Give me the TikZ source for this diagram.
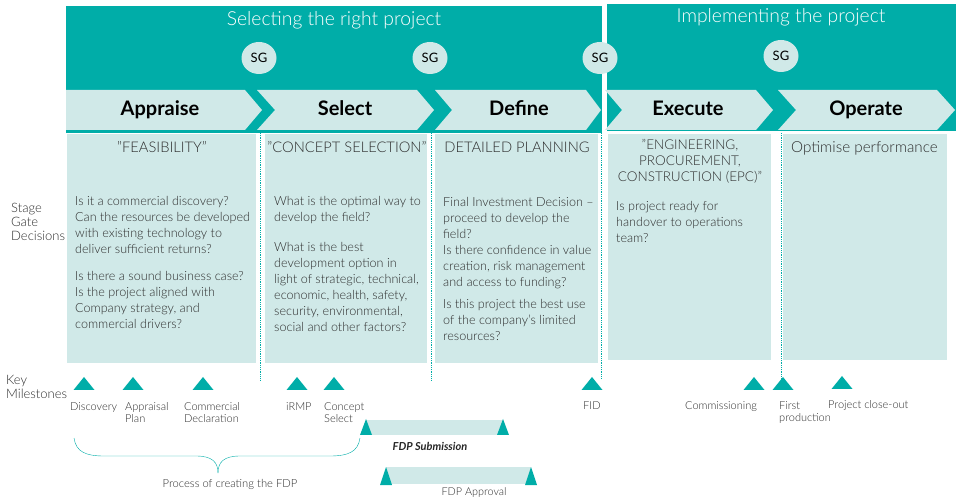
\documentclass[tikz,border=0pt]{standalone}
\usepackage{fontspec}
\setmainfont{Lato}
\newfontfamily\leggero{Lato Light}[Ligatures = TeX]
\usepackage{tikz}
\usetikzlibrary{shapes.geometric}
\usepackage{xcolor}
\definecolor{verde}{RGB}{0,173,168}
\definecolor{chiaro}{RGB}{208,233,232}
\definecolor{testo}{RGB}{45,45,45}
\newcommand{\tappa}[4]{
\fill[verde] ({#1-#3/2},#2) -- (#1,{#2-#4}) -- ({#1+#3/2},#2) -- cycle;
}
\newcommand{\virg}{\symbol{34}}

\begin{document}
\begin{tikzpicture}[x = 1pt, y = -1pt, inner sep = 0pt, text = testo,
    corpo/.style = {anchor = north west, align = left, font = \leggero\fontsize{12.6}{16}\selectfont},
    titolo/.style = {align = center, font = \leggero\fontsize{14.7}{16}\selectfont},
    fase/.style = {text = black, anchor = base, font = \fontsize{20}{22}\selectfont\bfseries},
    fascia/.style = {text = white, font = \leggero\fontsize{19.3}{22}\selectfont},
    sg/.style = {ellipse, fill = chiaro, minimum width = 35pt, minimum height = 32pt, text = black, font = \fontsize{13}{15}\selectfont},
    etichetta/.style = {anchor = north west, align = left, font = \leggero\fontsize{11}{12}\selectfont},
    lato/.style = {anchor = north west, align = left, font = \leggero\fontsize{13}{14}\selectfont},
    punteggiata/.style = {verde, densely dotted, line width = 0.8pt}]
    \useasboundingbox (0,0) rectangle (956,502);
    %Parametri
    \pgfmathsetmacro{\alto}{90}
    \pgfmathsetmacro{\medio}{110}
    \pgfmathsetmacro{\basso}{130}
    % Fasce in alto
    \fill[verde] (66,6) rectangle (602,133);
    \fill[verde] (607,4) rectangle (956,131);
    \node[fascia] (selezione) at (334,20) {Selecting the right project};
    \node[fascia] (attuazione) at (781,17) {Implementing the project};
    % Frecce delle fasi
    \fill[chiaro] (66,\alto) -- (245,\alto) -- (262,\medio) -- (245,\basso) -- (66,\basso) -- cycle;
    \fill[chiaro] (257,\alto) -- (417,\alto) -- (434,\medio) -- (417,\basso) -- (257,\basso) -- (275,\medio) -- cycle;
    \fill[chiaro] (435,\alto) -- (586,\alto) -- (601,\medio) -- (586,\basso) -- (435,\basso) -- (452,\medio) -- cycle;
    \fill[chiaro] (605,\alto) -- (756,\alto) -- (773,\medio) -- (756,\basso) -- (605,\basso) -- (622,\medio) -- cycle;
    \fill[chiaro] (778,\alto) -- (937,\alto) -- (955,\medio) -- (937,\basso) -- (778,\basso) -- (796,\medio) -- cycle;
    \node[fase] (appraise) at (160,116) {Appraise};
    \node[fase] (select) at (345,116) {Select};
    \node[fase] (define) at (519,116) {Define};
    \node[fase] (execute) at (688,116) {Execute};
    \node[fase] (operate) at (866,116) {Operate};
    % Stage gate
    \node[sg] (sg1) at (259,58) {SG};
    \node[sg] (sg2) at (430,58) {SG};
    \node[sg] (sg3) at (600,58) {SG};
    \node[sg] (sg4) at (781,56) {SG};
    % Colonne
    \fill[chiaro] (67,134) rectangle (256,363);
    \fill[chiaro] (265,134) rectangle (427,363);
    \fill[chiaro] (435,134) rectangle (598,363);
    \fill[chiaro] (608,134) rectangle (771,360);
    \fill[chiaro] (783,134) rectangle (947,360);
    % Linee tratteggiate
    \draw[punteggiata] (260,133) -- (260,380);
    \draw[punteggiata] (431,133) -- (431,380);
    \draw[punteggiata] (601,133) -- (601,379);
    \draw[punteggiata] (781,133) -- (781,380);
    % Titoli delle colonne
    \node[titolo] (feasibility) at (162,147) {\virg FEASIBILITY\virg};
    \node[titolo] (concetto) at (347,147) {\virg CONCEPT SELECTION\virg};
    \node[titolo] (planning) at (517,147) {DETAILED PLANNING};
    \node[titolo, font = \leggero\fontsize{13.5}{16}\selectfont] (epc) at (690,161) {\virg ENGINEERING,\\PROCUREMENT,\\CONSTRUCTION (EPC)\virg};
    \node[titolo, anchor = west, font = \leggero\fontsize{15.2}{16}\selectfont] (optimise) at (791,148) {Optimise performance};
    % Domande
    \node[corpo] (domande1) at (75,196) {Is it a commercial discovery?\\Can the resources be developed\\with existing technology to\\deliver sufficient returns?\\[11pt]Is there a sound business case?\\Is the project aligned with\\Company strategy, and\\commercial drivers?};
    \node[corpo] (domande2) at (274,196) {What is the optimal way to\\develop the field?\\[14pt]What is the best\\development option in\\light of strategic, technical,\\economic, health, safety,\\security, environmental,\\social and other factors?};
    \node[corpo] (domande3) at (443,197) {Final Investment Decision –\\proceed to develop the\\field?\\Is there confidence in value\\creation, risk management\\and access to funding?\\[6pt]Is this project the best use\\of the company’s limited\\resources?};
    \node[corpo] (domande4) at (616,201) {Is project ready for\\handover to operations\\team?};
    % Etichette a sinistra
    \node[lato] (stage) at (11,203) {Stage\\Gate\\Decisions};
    \node[lato] (key) at (6,375) {Key\\Milestones};
    % Tappe
    \tappa{84}{390}{21}{13}
    \tappa{133}{390}{21}{13}
    \tappa{203}{390}{21}{13}
    \tappa{297}{390}{21}{13}
    \tappa{334}{390}{21}{13}
    \tappa{592}{390}{21}{13}
    \tappa{754}{390}{21}{13}
    \tappa{783}{390}{21}{13}
    \tappa{842}{389}{21}{13}
    \node[etichetta] (discovery) at (70,402) {Discovery};
    \node[etichetta] (appraisal) at (125,402) {Appraisal\\Plan};
    \node[etichetta] (commercial) at (184,402) {Commercial\\Declaration};
    \node[etichetta] (irmp) at (286,402) {iRMP};
    \node[etichetta] (concept) at (324,402) {Concept\\Select};
    \node[etichetta] (fid) at (583,402) {FID};
    \node[etichetta] (commissioning) at (685,401) {Commissioning};
    \node[etichetta] (first) at (779,401) {First\\production};
    \node[etichetta] (closeout) at (828,400) {Project close-out};
    % FDP
    \fill[chiaro] (366,420) rectangle (503,435);
    \tappa{366}{435}{12}{16}
    \tappa{503}{435}{12}{16}
    \node[text = black!85, font = \fontsize{11}{13}\selectfont\bfseries\itshape] (submission) at (430,446) {FDP Submission};
    \fill[chiaro] (386,467) rectangle (531,484);
    \tappa{386}{485}{12}{18}
    \tappa{531}{485}{12}{18}
    \node[font = \leggero\fontsize{10.8}{12}\selectfont] (approval) at (474,493) {FDP Approval};
    % Graffa
    \draw[verde, thin] (74,438) .. controls (76,452) and (86,456) .. (104,456) -- (196,456) .. controls (212,456) and (218,462) .. (218,473);
    \draw[verde, thin] (360,438) .. controls (358,452) and (348,456) .. (330,456) -- (240,456) .. controls (224,456) and (218,462) .. (218,473);
    \node[font = \leggero\fontsize{11.2}{12}\selectfont] (processo) at (230,484) {Process of creating the FDP};
\end{tikzpicture}
\end{document}
